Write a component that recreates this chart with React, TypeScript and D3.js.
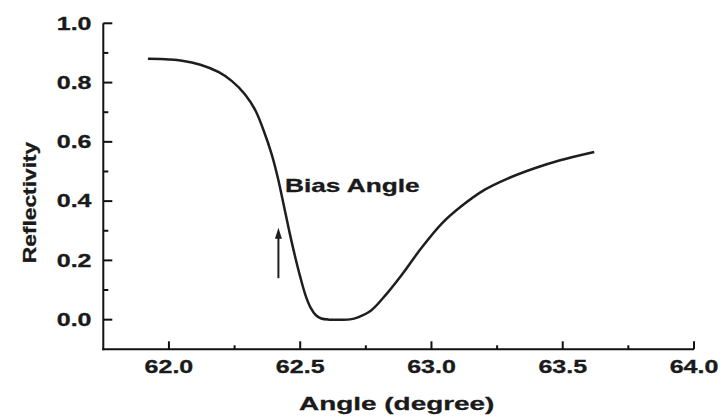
import React from "react";
import * as d3 from "d3";

// Reflectivity curve (angle in degrees, reflectivity)
const angles = [
  61.92, 62.0, 62.05, 62.12, 62.19, 62.24, 62.29, 62.33, 62.36, 62.39, 62.415, 62.44,
  62.46, 62.48, 62.5, 62.52, 62.54, 62.56, 62.58, 62.61, 62.65, 62.69, 62.72, 62.77,
  62.83, 62.89, 62.96, 63.04, 63.11, 63.2, 63.29, 63.39, 63.49, 63.62,
];
const reflectivity = [
  0.88, 0.878, 0.874, 0.86, 0.835, 0.805, 0.76, 0.705, 0.64, 0.562, 0.478, 0.375,
  0.292, 0.215, 0.145, 0.083, 0.04, 0.015, 0.004, 0.0, 0.0, 0.001, 0.008, 0.031,
  0.088, 0.155, 0.24, 0.325, 0.38, 0.437, 0.476, 0.51, 0.538, 0.566,
];

const xMajorTicks = [62.0, 62.5, 63.0, 63.5, 64.0];
const xMinorTicks = [62.25, 62.75, 63.25, 63.75];
const yMajorTicks = [0.0, 0.2, 0.4, 0.6, 0.8, 1.0];
const yMinorTicks = [0.1, 0.3, 0.5, 0.7, 0.9];

// Annotation: arrow pointing at the bias angle on the falling edge
const biasAngle = 62.417;
const arrowFrom = 0.14;
const arrowTo = 0.31;
const biasLabel = "Bias Angle";

const W = 722;
const H = 420;
const FONT = "'Liberation Sans', Arial, Helvetica, sans-serif";
const SX = 1.43; // horizontal stretch of the lettering

export default function App() {
  const x = d3.scaleLinear().domain([61.75, 64.0]).range([103.3, 694]);
  const y = d3.scaleLinear().domain([-0.1, 1.0]).range([349.3, 23.3]);

  const data = angles.map((a, i) => [a, reflectivity[i]] as [number, number]);
  const line = d3
    .line<[number, number]>()
    .x((d) => x(d[0]))
    .y((d) => y(d[1]))
    .curve(d3.curveCatmullRom.alpha(0.5));

  const x0 = x.range()[0];
  const y0 = y.range()[0];

  const ax = x(biasAngle);
  const ayTip = y(arrowTo);
  const ayTail = y(arrowFrom);

  return (
    <svg
      width={W}
      height={H}
      style={{ position: "absolute", left: 0, top: 0, background: "#fff" }}
    >
      {/* curve */}
      <path d={line(data) ?? ""} fill="none" stroke="#1e1e1e" strokeWidth={2.5} />

      {/* axes */}
      <g stroke="#111" strokeWidth={2}>
        <line x1={x0} y1={y.range()[1]} x2={x0} y2={y0 + 1} />
        <line x1={x0 - 1} y1={y0} x2={x.range()[1]} y2={y0} />
        {yMajorTicks.map((t) => (
          <line key={"ym" + t} x1={x0} x2={x0 + 9} y1={y(t)} y2={y(t)} />
        ))}
        {yMinorTicks.map((t) => (
          <line key={"yn" + t} x1={x0} x2={x0 + 5} y1={y(t)} y2={y(t)} />
        ))}
        {xMajorTicks.map((t) => (
          <line key={"xm" + t} x1={x(t)} x2={x(t)} y1={y0} y2={y0 - 8} />
        ))}
        {xMinorTicks.map((t) => (
          <line key={"xn" + t} x1={x(t)} x2={x(t)} y1={y0} y2={y0 - 4} />
        ))}
      </g>

      {/* tick labels */}
      <g
        fontFamily={FONT}
        fontWeight="bold"
        fontSize={17.5}
        fill="#1a1a1a"
        stroke="#1a1a1a"
        strokeWidth={0.3}
      >
        {yMajorTicks.map((t) => (
          <g key={"yl" + t} transform={`translate(91.5,${y(t) + 6.3}) scale(${SX},1)`}>
            <text textAnchor="end">{t.toFixed(1)}</text>
          </g>
        ))}
        {xMajorTicks.map((t) => (
          <g key={"xl" + t} transform={`translate(${x(t)},372.5) scale(${SX},1)`}>
            <text textAnchor="middle">{t.toFixed(1)}</text>
          </g>
        ))}
      </g>

      {/* axis titles */}
      <g fontFamily={FONT} fontWeight="bold" fill="#1a1a1a" stroke="#1a1a1a" strokeWidth={0.3}>
        <g transform={`translate(396.7,409.5) scale(1.47,1)`}>
          <text textAnchor="middle" fontSize={19}>
            Angle (degree)
          </text>
        </g>
        <g transform={`translate(35.5,202.5) rotate(-90) scale(1.2,1)`}>
          <text textAnchor="middle" fontSize={19}>
            Reflectivity
          </text>
        </g>
        <g transform={`translate(285,191.5) scale(1.5,1)`}>
          <text fontSize={17.5}>{biasLabel}</text>
        </g>
      </g>

      {/* arrow */}
      <line x1={ax} x2={ax} y1={ayTail} y2={ayTip + 8} stroke="#1e1e1e" strokeWidth={2} />
      <path
        d={`M${ax},${ayTip} L${ax - 3.5},${ayTip + 11} L${ax + 3.5},${ayTip + 11} Z`}
        fill="#1e1e1e"
      />
    </svg>
  );
}
